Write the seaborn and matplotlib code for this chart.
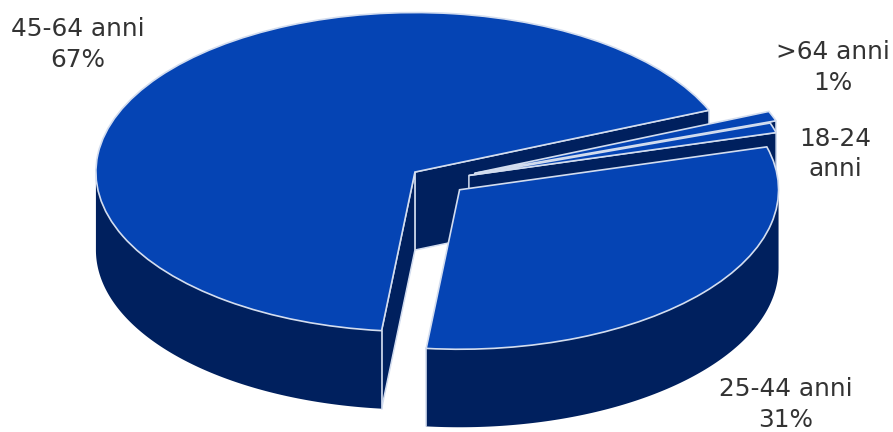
import numpy as np
import matplotlib
matplotlib.use("Agg")
import matplotlib.pyplot as plt
from matplotlib.patches import Polygon
import seaborn as sns

# Age bands, counter-clockwise from the first slice
age_bands = ["25-44 anni", "18-24 anni", ">64 anni", "45-64 anni"]
shares = [31, 1, 1, 67]
label_texts = ["25-44 anni\n31%", "18-24\nanni", ">64 anni\n1%", "45-64 anni\n67%"]
slice_offsets = [29, 33, 40, 28]
label_anchor_px = [(786, 404.5), (835, 154), (833, 67.5), (78, 44.5)]

WIDTH, HEIGHT = 893, 432
RADIUS = 319
TILT = 0.5          # vertical squash of the disc
DEPTH_PX = 78       # height of the cylinder on screen
CENTER_PX = (437.4, 180.4)
START_ANGLE = 264

TOP, WALL = sns.color_palette(["#0544B4", "#00205E"])
EDGE = "#D3DDEF"
TEXT = "#333333"

sns.set_style("white")
plt.rcParams["font.family"] = ["DejaVu Sans"]


def to_y(py):
    """Screen row to the unsquashed disc coordinate used on the y axis."""
    return (HEIGHT - py) / TILT


depth = DEPTH_PX / TILT
fig, ax = plt.subplots(figsize=(WIDTH / 100, HEIGHT / 100), dpi=100)
fig.subplots_adjust(0, 0, 1, 1)

wedges, _ = ax.pie(
    shares,
    explode=slice_offsets,
    radius=RADIUS,
    center=(CENTER_PX[0], to_y(CENTER_PX[1])),
    startangle=START_ANGLE,
    counterclock=True,
    colors=[TOP],
    wedgeprops=dict(edgecolor=EDGE, linewidth=1.2),
)
ax.set_aspect("auto")
ax.set_xlim(0, WIDTH)
ax.set_ylim(0, HEIGHT / TILT)
ax.axis("off")


def add_wall(points, zorder, edge=EDGE):
    ax.add_patch(Polygon(points, closed=True, facecolor=WALL, edgecolor=edge,
                         linewidth=1.1, joinstyle="round", zorder=zorder))


def add_seam(x, y, zorder):
    ax.plot([x, x], [y, y - depth], color=EDGE, linewidth=1.1, zorder=zorder)


# Back to front: large slice, the two thin ones, then the front slice
paint_order = [3, 2, 1, 0]
for rank, idx in enumerate(paint_order):
    w = wedges[idx]
    z = 2 + rank * 2
    cx, cy = w.center
    t1, t2 = w.theta1, w.theta2

    # Cut faces that turn towards the viewer
    for angle, sign in ((t1, 1), (t2, -1)):
        a = np.deg2rad(angle)
        if sign * np.cos(a) > 0:
            rim = (cx + RADIUS * np.cos(a), cy + RADIUS * np.sin(a))
            add_wall([(cx, cy), rim, (rim[0], rim[1] - depth), (cx, cy - depth)], z)

    # Outer wall, only along the near half of the rim
    for turn in (0, 360):
        arc_start = max(t1, 180 + turn)
        arc_end = min(t2, 360 + turn)
        if arc_end > arc_start:
            th = np.deg2rad(np.linspace(arc_start, arc_end, 120))
            upper = np.column_stack([cx + RADIUS * np.cos(th), cy + RADIUS * np.sin(th)])
            lower = upper[::-1] - [0, depth]
            add_wall(np.vstack([upper, lower]), z, edge="none")
            if arc_start > 180 + turn:
                add_seam(upper[0, 0], upper[0, 1], z)
            if arc_end < 360 + turn:
                add_seam(upper[-1, 0], upper[-1, 1], z)

    w.set_zorder(z + 1)

for text, (px, py) in zip(label_texts, label_anchor_px):
    ax.text(px, to_y(py), text, ha="center", va="center", ma="center",
            fontsize=17.8, color=TEXT, linespacing=1.32, zorder=20)

fig.savefig("out.png", dpi=100, facecolor="white")
